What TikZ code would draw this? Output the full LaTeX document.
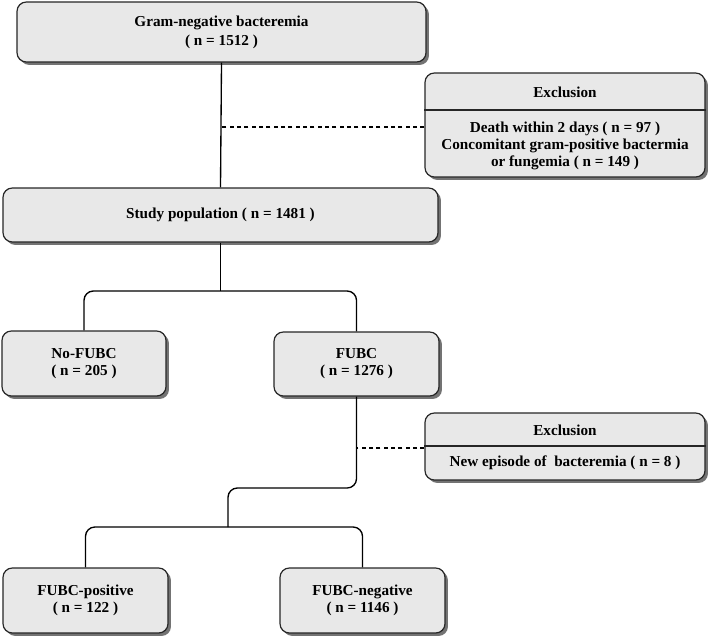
\documentclass[tikz,border=0pt]{standalone}
\usepackage{fontspec}
\setmainfont{Liberation Serif}
\usetikzlibrary{shadows}
\definecolor{boxgray}{RGB}{232,232,232}

\begin{document}
\begin{tikzpicture}[x=0.75pt,y=-0.75pt]
  \tikzset{flow box/.style 2 args={draw=black!85,line width=0.9pt,rounded corners=7pt,fill=boxgray,
      drop shadow={shadow xshift=2.2pt,shadow yshift=-2.2pt,fill=black!55,opacity=1},
      minimum width=#1pt,minimum height=#2pt,inner sep=0pt,align=center,
      font=\bfseries\fontsize{11.4}{12.75}\selectfont},
    flow text/.style={align=center,inner sep=0pt,font=\bfseries\fontsize{11.4}{12.5}\selectfont},
    link/.style={draw=black,line width=1pt},
    side link/.style={draw=black,line width=1pt,dash pattern=on 3pt off 2.5pt}}
  \useasboundingbox (0,0) rectangle (709,639);

  \node [flow box={306.75}{45}] (gram) at (221.5,32) {Gram-negative bacteremia\\[1.5pt]( n = 1512 )}; % top
  \node [flow box={210}{78}] (exc1) at (565,125) {}; % exclusion 1
  \draw [line width=0.9pt,draw=black!85] (exc1.west |- 0,110) -- (exc1.east |- 0,110);
  \node [flow text] (exc1title) at (565,92) {Exclusion};
  \node [flow text] (exc1text) at (565,146) {Death within 2 days ( n = 97 )\\Concomitant gram-positive bactermia\\or fungemia ( n = 149 )};
  \node [flow box={326.25}{40.5}] (study) at (220.5,215) {Study population ( n = 1481 )}; % study
  \node [flow box={123}{48.75}] (nofubc) at (84,363.5) {No-FUBC\\( n = 205 )};
  \node [flow box={123.75}{48}] (fubc) at (356.5,364) {FUBC\\( n = 1276 )};
  \node [flow box={210}{50.25}] (exc2) at (565,446.5) {}; % exclusion 2
  \draw [line width=0.9pt,draw=black!85] (exc2.west |- 0,446) -- (exc2.east |- 0,446);
  \node [flow text] (exc2title) at (565,430) {Exclusion};
  \node [flow text] (exc2text) at (565,463) {New episode of\ \ bacteremia ( n = 8 )};
  \node [flow box={123.75}{48.75}] (fpos) at (85.5,600.5) {FUBC-positive\\( n = 122 )};
  \node [flow box={123.75}{48.75}] (fneg) at (362.5,600.5) {FUBC-negative\\( n = 1146 )};

  \coordinate (split1) at (220.5,291);
  \coordinate (bend) at (228,488);
  \coordinate (split2) at (228,527);

  \path [link] (gram.south) -- (study.north);
  \path [side link] (exc1.west |- 0,127) -- (gram.south |- 0,127);
  \path [link] (study.south) -- (split1);
  \path [link,rounded corners=7pt] (nofubc.north) |- (split1) -| (fubc.north);
  \path [link,rounded corners=7pt] (fubc.south) |- (bend) -- (split2);
  \path [side link] (exc2.west |- 0,448) -- (fubc.south |- 0,448);
  \path [link,rounded corners=7pt] (fpos.north) |- (split2) -| (fneg.north);
\end{tikzpicture}
\end{document}
